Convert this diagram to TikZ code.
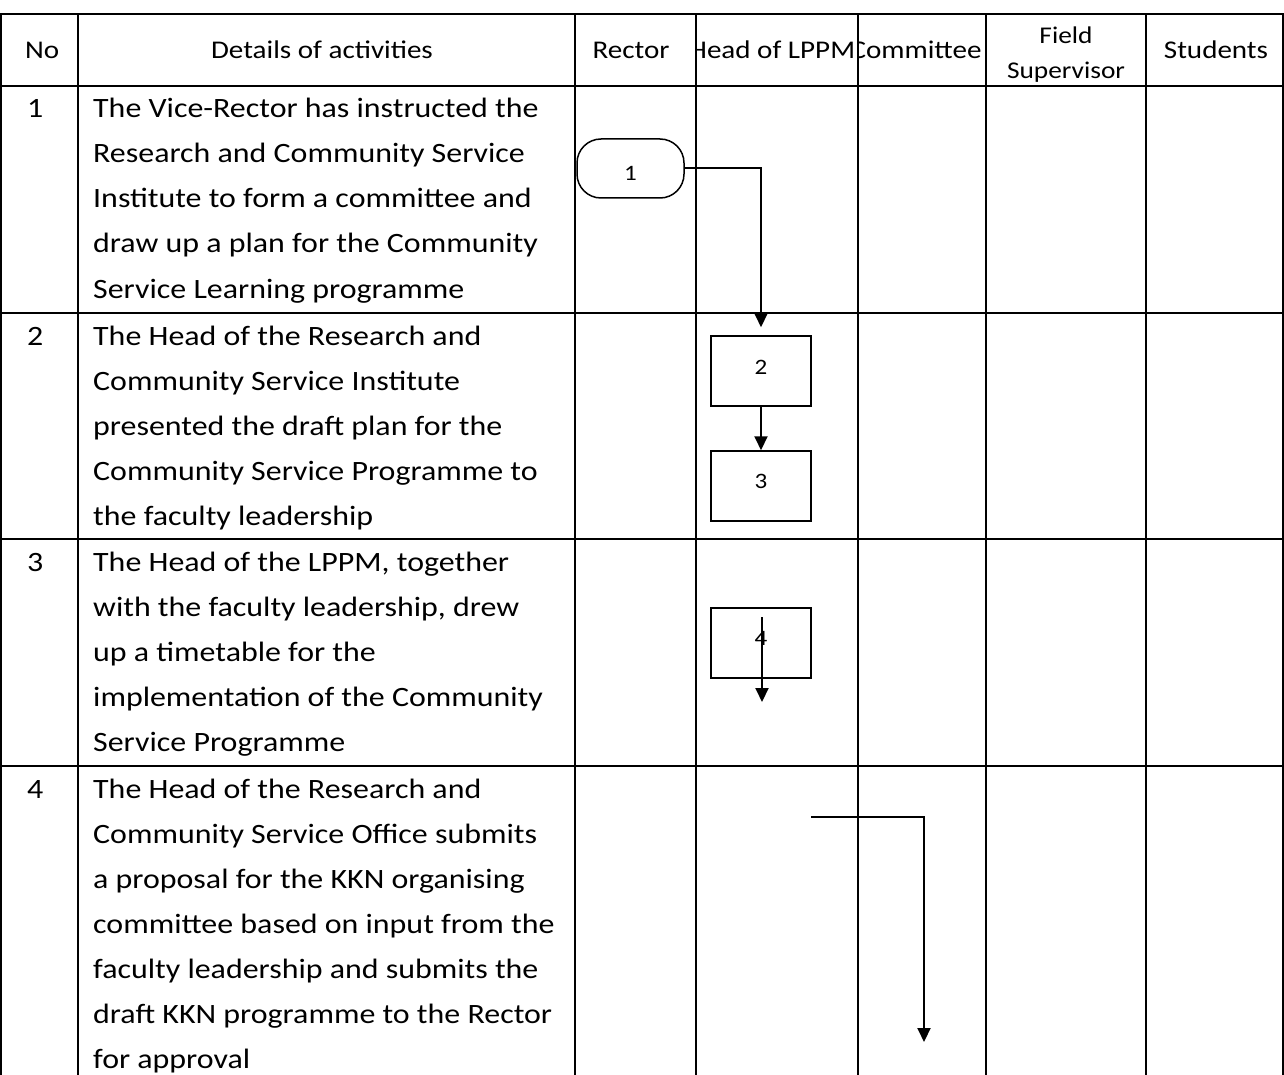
\documentclass[tikz,border=0pt]{standalone}
\usepackage{fontspec}
\setmainfont{Carlito}[FakeStretch=1.14]
\usetikzlibrary{arrows.meta}
\begin{document}
\begin{tikzpicture}[x=1pt,y=-1pt,
  grid/.style={line width=2pt},
  body/.style={anchor=base west, inner sep=0pt, font=\fontsize{28}{45}\selectfont},
  head/.style={anchor=base, inner sep=0pt, font=\fontsize{25.5}{30}\selectfont},
  smallhead/.style={anchor=base, inner sep=0pt, font=\fontsize{24}{26}\selectfont},
  procbox/.style={draw, line width=1.5pt, minimum width=100pt, minimum height=70pt, inner sep=0pt, font=\fontsize{22}{22}\selectfont},
  termbox/.style={draw, line width=1.5pt, rounded corners=24pt, minimum width=107pt, minimum height=59pt, inner sep=0pt, font=\fontsize{22}{22}\selectfont},
  conn/.style={line width=2pt, -{Triangle[width=13pt,length=14pt]}}
]
\useasboundingbox (0,0) rectangle (1284,1075);
\fill[white] (0,0) rectangle (1284,1075);

% grid
\foreach \y in {14,86,313,539,766} \draw[grid] (0,\y) -- (1284,\y);
\foreach \x in {1,78,575,696,858,986,1146,1283} \draw[grid] (\x,14) -- (\x,1075);

% header
\node[head, anchor=base west] (hno) at (25,59) {No};
\node[head] (hdet) at (322,59) {Details of activities};
\node[head] (hrec) at (631,59) {Rector};
\begin{scope}
  \clip (697,15) rectangle (857,85);
  \node[head] (hlppm) at (772,59) {Head of LPPM};
\end{scope}
\begin{scope}
  \clip (859,15) rectangle (985,85);
  \node[head] (hcom) at (916,59) {Committee};
\end{scope}
\node[smallhead] (hfs1) at (1066,44) {Field};
\node[smallhead] (hfs2) at (1066,79) {Supervisor};
\node[head] (hstu) at (1216,59) {Students};

% numbers
\node[body] (n1) at (27,118) {1};
\node[body] (n2) at (27,345) {2};
\node[body] (n3) at (27,571) {3};
\node[body] (n4) at (27,798) {4};

% details
\foreach \t [count=\i] in {The Vice-Rector has instructed the,Research and Community Service,Institute to form a committee and,draw up a plan for the Community,Service Learning programme}
  \node[body] (ra\i) at (93,118+45*\i-45) {\t};
\foreach \t [count=\i] in {The Head of the Research and,Community Service Institute,presented the draft plan for the,Community Service Programme to,the faculty leadership}
  \node[body] (rb\i) at (93,345+45*\i-45) {\t};
\foreach \t [count=\i] in {{The Head of the LPPM, together},{with the faculty leadership, drew},up a timetable for the,implementation of the Community,Service Programme}
  \node[body] (rc\i) at (93,571+45*\i-45) {\t};
\foreach \t [count=\i] in {The Head of the Research and,Community Service Office submits,a proposal for the KKN organising,committee based on input from the,faculty leadership and submits the,draft KKN programme to the Rector,for approval}
  \node[body] (rd\i) at (93,798+45*\i-45) {\t};

% shapes
\node[termbox] (t1) at (630.5,168.5) {\raisebox{0pt}[24pt][0pt]{1}};
\node[procbox] (b2) at (761,371) {\raisebox{8pt}{2}};
\node[procbox] (b3) at (761,486) {\raisebox{10pt}{3}};
\node[procbox] (b4) at (761,643) {\raisebox{10pt}{4}};

% connectors
\draw[conn, shorten >=8pt] (t1.east) -| (b2.north);
\draw[conn] (b2.south) -- (b3.north);
\coordinate (c4a) at (762,617);
\coordinate (c4b) at (762,702);
\draw[conn] (c4a) -- (c4b);
\coordinate (c5a) at (811,817);
\coordinate (c5c) at (924,1042);
\draw[conn] (c5a) -| (c5c);
\end{tikzpicture}
\end{document}
